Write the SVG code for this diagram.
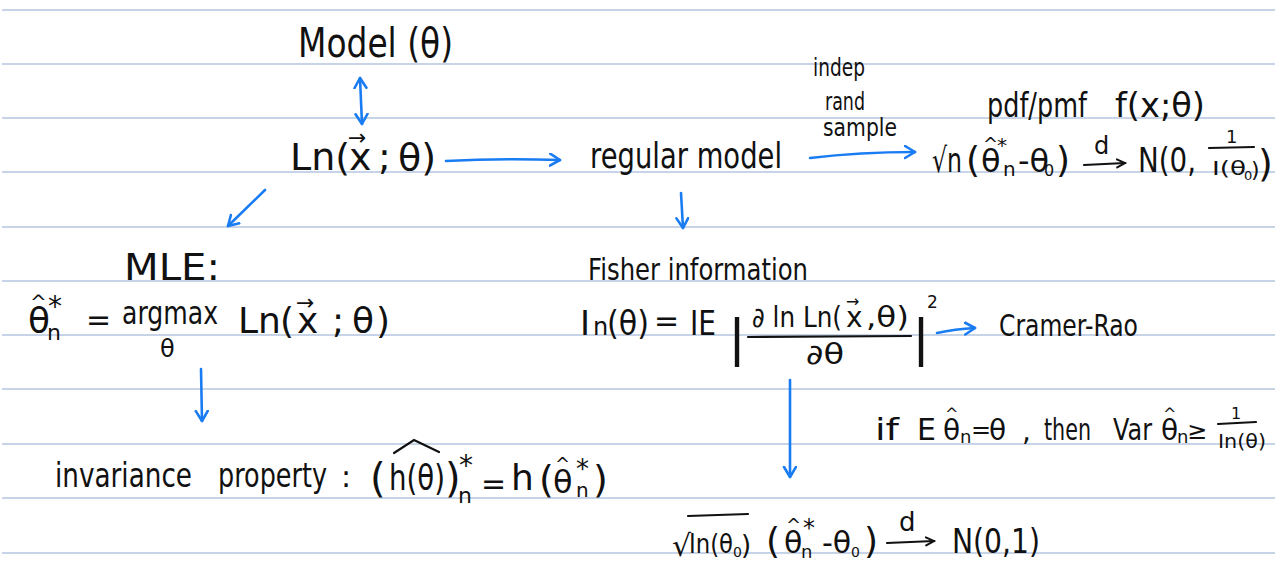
<svg xmlns="http://www.w3.org/2000/svg" width="1275" height="578" viewBox="0 0 1275 578">
<style>
.rule{stroke:#c7d4e8;stroke-width:2}
.t{font-family:"DejaVu Sans","Liberation Sans",sans-serif;fill:#111}
.bar{font-family:"Liberation Sans","DejaVu Sans",sans-serif;fill:#111}
.c{fill:none;stroke:#1a7cf2;stroke-width:2.6;stroke-linecap:round}
.k{fill:none;stroke:#111;stroke-width:2.2;stroke-linecap:round}
</style>
<defs>
<marker id="ah" markerUnits="userSpaceOnUse" markerWidth="14" markerHeight="16" refX="11" refY="7" orient="auto-start-reverse">
<path d="M1,1 L11,7 L1,13" fill="none" stroke="#1a7cf2" stroke-width="2.6" stroke-linecap="round" stroke-linejoin="round"/>
</marker>
<marker id="kh" markerUnits="userSpaceOnUse" markerWidth="12" markerHeight="12" refX="9" refY="5" orient="auto">
<path d="M1,1 L9,5 L1,9" fill="none" stroke="#111" stroke-width="2" stroke-linecap="round"/>
</marker>
</defs>
<rect width="1275" height="578" fill="#fff"/>
<g id="ruled">
<line class="rule" x1="2" y1="10" x2="1275" y2="10"/>
<line class="rule" x1="2" y1="64" x2="1275" y2="64"/>
<line class="rule" x1="2" y1="118" x2="1275" y2="118"/>
<line class="rule" x1="2" y1="172" x2="1275" y2="172"/>
<line class="rule" x1="2" y1="227" x2="1275" y2="227"/>
<line class="rule" x1="2" y1="281" x2="1275" y2="281"/>
<line class="rule" x1="2" y1="335" x2="1275" y2="335"/>
<line class="rule" x1="2" y1="389" x2="1275" y2="389"/>
<line class="rule" x1="2" y1="444" x2="1275" y2="444"/>
<line class="rule" x1="2" y1="498" x2="1275" y2="498"/>
<line class="rule" x1="2" y1="553" x2="1275" y2="553"/>
</g>
<g id="model">
<text class="t" x="298" y="57" font-size="40" textLength="155" lengthAdjust="spacingAndGlyphs">Model (θ)</text>
</g>
<g id="likelihood">
<text class="t" font-size="38" y="170"><tspan x="290">Ln(</tspan><tspan x="348" y="145" font-size="22">→</tspan><tspan x="349" y="170">x</tspan><tspan x="378">;</tspan><tspan x="398">θ)</tspan></text>
</g>
<g id="regular">
<text class="t" x="590" y="168" font-size="36" textLength="192" lengthAdjust="spacingAndGlyphs">regular  model</text>
</g>
<g id="sample-label">
<text class="t" x="813" y="76" font-size="24" textLength="52" lengthAdjust="spacingAndGlyphs">indep</text>
<text class="t" x="825" y="110" font-size="24" textLength="40" lengthAdjust="spacingAndGlyphs">rand</text>
<text class="t" x="823" y="136" font-size="24" textLength="74" lengthAdjust="spacingAndGlyphs">sample</text>
</g>
<g id="pdf">
<text class="t" font-size="34" y="117"><tspan x="987" textLength="100" lengthAdjust="spacingAndGlyphs">pdf/pmf</tspan><tspan x="1115" textLength="90" lengthAdjust="spacingAndGlyphs">f(x;θ)</tspan></text>
</g>
<g id="asymp-normal">
<text class="t" font-size="34"><tspan x="932" y="172" textLength="30" lengthAdjust="spacingAndGlyphs">√n</tspan><tspan x="966" font-size="36">(</tspan><tspan x="981" font-size="32">θ</tspan><tspan x="983" y="150" font-size="18">^</tspan><tspan x="997" y="152" font-size="20">*</tspan><tspan x="1003" y="176" font-size="20">n</tspan><tspan x="1018" y="172" font-size="32">-θ</tspan><tspan x="1044" y="176" font-size="16">0</tspan><tspan x="1056" y="172" font-size="36">)</tspan><tspan x="1094" y="154" font-size="24">d</tspan><tspan x="1138" y="172" textLength="58" lengthAdjust="spacingAndGlyphs">N(0,</tspan><tspan x="1226" y="143" font-size="18">1</tspan><tspan x="1212" y="175" font-size="20" textLength="34" lengthAdjust="spacingAndGlyphs">I(θ</tspan><tspan x="1244" y="180" font-size="13">0</tspan><tspan x="1251" y="177" font-size="22">)</tspan><tspan x="1258" y="176" font-size="38">)</tspan></text>
<path class="k" d="M1084,165 L1125,163" marker-end="url(#kh)"/>
<path class="k" d="M1209,148 L1254,147"/>
</g>
<g id="mle">
<text class="t" x="124" y="280" font-size="38" textLength="96" lengthAdjust="spacingAndGlyphs">MLE:</text>
</g>
<g id="fisher">
<text class="t" x="588" y="280" font-size="30" textLength="220" lengthAdjust="spacingAndGlyphs">Fisher information</text>
</g>
<g id="mle-def">
<text class="t" font-size="36"><tspan x="28" y="333">θ</tspan><tspan x="30" y="309" font-size="20">^</tspan><tspan x="48" y="316" font-size="28">*</tspan><tspan x="47" y="340" font-size="22">n</tspan><tspan x="86" y="330" font-size="30">=</tspan><tspan x="122" y="324" font-size="32" textLength="96" lengthAdjust="spacingAndGlyphs">argmax</tspan><tspan x="160" y="357" font-size="24">θ</tspan><tspan x="238" y="333">Ln</tspan><tspan x="280">(</tspan><tspan x="296" y="310" font-size="22">→</tspan><tspan x="297" y="333">x</tspan><tspan x="332">;</tspan><tspan x="352">θ</tspan><tspan x="376">)</tspan></text>
</g>
<g id="invariance">
<text class="t" font-size="34"><tspan x="55" y="487" textLength="137" lengthAdjust="spacingAndGlyphs">invariance</tspan><tspan x="218" textLength="109" lengthAdjust="spacingAndGlyphs">property</tspan><tspan x="341" font-size="30">:</tspan><tspan x="370" y="492" font-size="40">(</tspan><tspan x="389" y="490" font-size="36" textLength="56" lengthAdjust="spacingAndGlyphs">h(θ)</tspan><tspan x="445" y="492" font-size="40">)</tspan><tspan x="459" y="475" font-size="28">*</tspan><tspan x="458" y="503" font-size="22">n</tspan><tspan x="481" y="494" font-size="30">=</tspan><tspan x="511" y="490" font-size="36">h</tspan><tspan x="539" y="492" font-size="38">(</tspan><tspan x="553" y="493" font-size="32">θ</tspan><tspan x="555" y="470" font-size="18">^</tspan><tspan x="576" y="478" font-size="26">*</tspan><tspan x="576" y="497" font-size="20">n</tspan><tspan x="593" y="492" font-size="38">)</tspan></text>
<path class="k" d="M394,453 L414,440 L439,452"/>
</g>
<g id="fisher-def">
<text class="t" font-size="34"><tspan x="580" y="335">I</tspan><tspan x="593" font-size="24">n</tspan><tspan x="607" textLength="42" lengthAdjust="spacingAndGlyphs">(θ)</tspan><tspan x="654" y="331" font-size="30">=</tspan><tspan x="690" y="335" textLength="26" lengthAdjust="spacingAndGlyphs">IE</tspan><tspan x="752" y="327" font-size="28" textLength="90" lengthAdjust="spacingAndGlyphs">∂ ln Ln(</tspan><tspan x="846" y="307" font-size="16">→</tspan><tspan x="846" y="327" font-size="28">x</tspan><tspan x="866" font-size="28" textLength="43" lengthAdjust="spacingAndGlyphs">,θ)</tspan><tspan x="806" y="364" font-size="28" textLength="38" lengthAdjust="spacingAndGlyphs">∂θ</tspan><tspan x="927" y="308" font-size="17">2</tspan></text>
<text class="bar" font-size="54"><tspan x="730" y="356">|</tspan><tspan x="914" y="356">|</tspan></text>
<path class="k" d="M748,337 L911,336"/>
</g>
<g id="cramer-rao">
<text class="t" x="999" y="336" font-size="30" textLength="139" lengthAdjust="spacingAndGlyphs">Cramer-Rao</text>
</g>
<g id="cr-bound">
<text class="t" font-size="28"><tspan x="875" y="440" font-size="30" textLength="24" lengthAdjust="spacingAndGlyphs">if</tspan><tspan x="917" font-size="30">E</tspan><tspan x="943">θ</tspan><tspan x="945" y="419" font-size="16">^</tspan><tspan x="960" y="443" font-size="18">n</tspan><tspan x="971" y="438" font-size="24">=</tspan><tspan x="989" y="440">θ</tspan><tspan x="1022" y="441">,</tspan><tspan x="1044" y="440" font-size="30" textLength="47" lengthAdjust="spacingAndGlyphs">then</tspan><tspan x="1113" font-size="30" textLength="39" lengthAdjust="spacingAndGlyphs">Var</tspan><tspan x="1161">θ</tspan><tspan x="1163" y="419" font-size="16">^</tspan><tspan x="1177" y="443" font-size="18">n</tspan><tspan x="1187" y="439" font-size="24">≥</tspan><tspan x="1231" y="419" font-size="16">1</tspan><tspan x="1218" y="448" font-size="20" textLength="48" lengthAdjust="spacingAndGlyphs">In(θ)</tspan></text>
<path class="k" d="M1218,424 L1256,422"/>
</g>
<g id="asymp-efficiency">
<text class="t" font-size="30"><tspan x="672" y="556">√</tspan><tspan x="689" y="553" font-size="26" textLength="44" lengthAdjust="spacingAndGlyphs">In(θ</tspan><tspan x="733" y="557" font-size="14">0</tspan><tspan x="741" y="554" font-size="26">)</tspan><tspan x="766" y="553" font-size="36">(</tspan><tspan x="784">θ</tspan><tspan x="786" y="531" font-size="18">^</tspan><tspan x="803" y="536" font-size="24">*</tspan><tspan x="801" y="558" font-size="18">n</tspan><tspan x="822" y="553">-θ</tspan><tspan x="851" y="557" font-size="14">0</tspan><tspan x="864" y="553" font-size="36">)</tspan><tspan x="899" y="531" font-size="26">d</tspan><tspan x="952" y="553" font-size="34" textLength="88" lengthAdjust="spacingAndGlyphs">N(0,1)</tspan></text>
<path class="k" d="M688,516 L748,514"/>
<path class="k" d="M887,543 L934,541" marker-end="url(#kh)"/>
</g>
<g id="connectors">
<path class="c" d="M360,78 L362,124" marker-start="url(#ah)" marker-end="url(#ah)"/>
<path class="c" d="M446,161 Q500,158 560,160" marker-end="url(#ah)"/>
<path class="c" d="M810,158 Q860,152 915,152" marker-end="url(#ah)"/>
<path class="c" d="M265,190 L228,226" marker-end="url(#ah)"/>
<path class="c" d="M681,193 L683,228" marker-end="url(#ah)"/>
<path class="c" d="M201,369 L202,421" marker-end="url(#ah)"/>
<path class="c" d="M937,333 Q955,329 975,328" marker-end="url(#ah)"/>
<path class="c" d="M790,380 L790,477" marker-end="url(#ah)"/>
</g>
</svg>
